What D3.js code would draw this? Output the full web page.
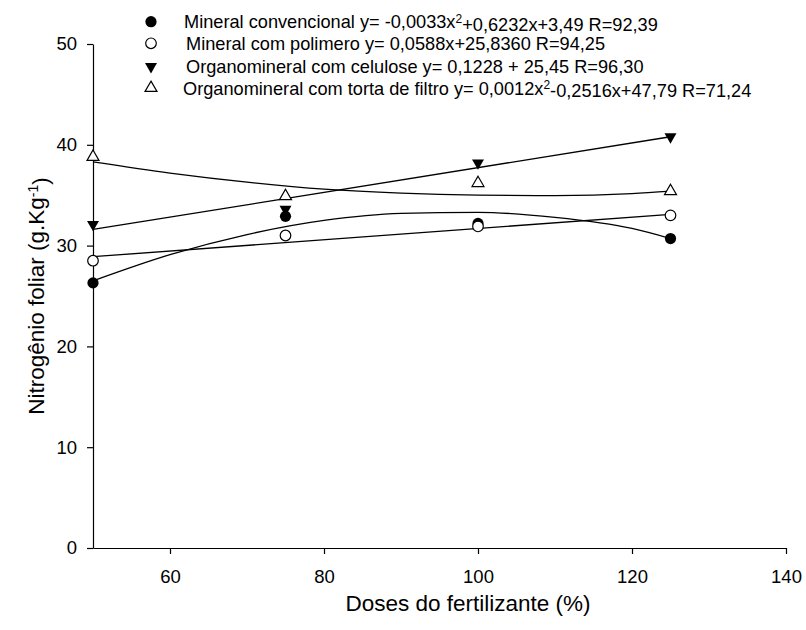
<!DOCTYPE html>
<html>
<head>
<meta charset="utf-8">
<script src="https://cdn.jsdelivr.net/npm/d3@7"></script>
<style>
  html, body { margin: 0; padding: 0; background: #fff; }
  svg { display: block; font-family: "Liberation Sans", Arial, sans-serif; }
</style>
</head>
<body>
<svg id="chart" width="806" height="630"></svg>
<script>
// ---- data ----
const doses = [50, 75, 100, 125];
const mineralConvencional = [26.3, 32.9, 32.2, 30.7];
const mineralPolimero = [28.5, 31.0, 31.9, 33.0];
const organoCelulose = [32.1, 33.6, 38.2, 40.8];
const organoTorta = [38.8, 34.9, 36.2, 35.4];

// fitted curves as drawn in the picture
const curveX = [50, 60, 70, 80, 90, 100, 110, 120, 125];
const fitConvencional = [26.5, 29.1, 31.1, 32.5, 33.2, 33.3, 32.8, 31.7, 30.7];
const fitTorta = [38.3, 37.2, 36.3, 35.6, 35.2, 35.0, 34.95, 35.15, 35.4];
const lineX = [50, 125];
const fitPolimero = [28.9, 33.1];
const fitCelulose = [31.6, 40.8];

const xTicks = [60, 80, 100, 120, 140];
const yTicks = [0, 10, 20, 30, 40, 50];

const legendItems = [
  {name: "Mineral convencional y= -0,0033x", sup: "2", rest: "+0,6232x+3,49 R=92,39", marker: "fcircle"},
  {name: "Mineral com polimero y= 0,0588x+25,8360 R=94,25", sup: null, rest: "", marker: "ocircle"},
  {name: "Organomineral com celulose y= 0,1228 + 25,45 R=96,30", sup: null, rest: "", marker: "dtri"},
  {name: "Organomineral com torta de filtro y= 0,0012x", sup: "2", rest: "-0,2516x+47,79 R=71,24", marker: "utri"}
];

// ---- drawing ----
const svg = d3.select("#chart");
const x = d3.scaleLinear().domain([50, 140]).range([93, 786]);
const y = d3.scaleLinear().domain([0, 50]).range([548, 44]);

const stroke = "#000";

// axes
const gx = svg.append("g").attr("transform", `translate(0,${y(0)})`)
  .call(d3.axisBottom(x).tickValues(xTicks).tickSize(6).tickSizeOuter(0).tickPadding(16));
const gy = svg.append("g").attr("transform", `translate(${x(50)},0)`)
  .call(d3.axisLeft(y).tickValues(yTicks).tickSize(6).tickSizeOuter(0).tickPadding(10));
[gx, gy].forEach(g => {
  g.selectAll("path, line").attr("stroke", stroke).attr("stroke-width", 1.2);
  g.selectAll("text").attr("fill", "#000").style("font-size", "18.5px")
    .style("font-family", '"Liberation Sans", Arial, sans-serif');
});

// axis titles
svg.append("text").attr("x", 468).attr("y", 611).attr("text-anchor", "middle")
  .style("font-size", "22.5px").text("Doses do fertilizante (%)");
const yt = svg.append("text").attr("transform", `translate(44,296) rotate(-90)`)
  .attr("text-anchor", "middle").style("font-size", "22.5px");
yt.append("tspan").text("Nitrogênio foliar (g.Kg");
yt.append("tspan").attr("dy", "-0.45em").style("font-size", "14px").text("-1");
yt.append("tspan").attr("dy", "0.45em").text(")");

// fitted lines
const lineGen = d3.line().x(d => x(d[0])).y(d => y(d[1])).curve(d3.curveMonotoneX);
const fits = [
  [curveX, fitConvencional],
  [lineX, fitPolimero],
  [lineX, fitCelulose],
  [curveX, fitTorta]
];
fits.forEach(([xs, ys]) => {
  svg.append("path").datum(xs.map((v, i) => [v, ys[i]]))
    .attr("d", lineGen).attr("fill", "none").attr("stroke", stroke).attr("stroke-width", 1.3);
});

// markers
const triSym = d3.symbol().type(d3.symbolTriangle).size(62);
function drawMarker(g, type, cx, cy) {
  if (type === "fcircle") {
    g.append("circle").attr("cx", cx).attr("cy", cy).attr("r", 5.6).attr("fill", "#000");
  } else if (type === "ocircle") {
    g.append("circle").attr("cx", cx).attr("cy", cy).attr("r", 5.3)
      .attr("fill", "#fff").attr("stroke", "#000").attr("stroke-width", 1.2);
  } else if (type === "dtri") {
    g.append("path").attr("d", triSym()).attr("transform", `translate(${cx},${cy}) rotate(180)`)
      .attr("fill", "#000");
  } else {
    g.append("path").attr("d", triSym()).attr("transform", `translate(${cx},${cy})`)
      .attr("fill", "#fff").attr("stroke", "#000").attr("stroke-width", 1.2);
  }
}
const series = [
  [mineralConvencional, "fcircle"],
  [mineralPolimero, "ocircle"],
  [organoCelulose, "dtri"],
  [organoTorta, "utri"]
];
const gm = svg.append("g");
series.forEach(([vals, type]) => {
  vals.forEach((v, i) => drawMarker(gm, type, x(doses[i]), y(v)));
});

// legend
const legY = [21.7, 43.3, 66.5, 88];
const legTextX = [184, 186, 186, 183];
const gl = svg.append("g");
legendItems.forEach((it, i) => {
  drawMarker(gl, it.marker, 151, legY[i]);
  const t = gl.append("text").attr("x", legTextX[i]).attr("y", legY[i] + 6.5)
    .style("font-size", "18.2px").attr("fill", "#000");
  t.append("tspan").text(it.name);
  if (it.sup) {
    t.append("tspan").attr("dy", "-0.45em").style("font-size", "12px").text(it.sup);
    t.append("tspan").attr("dy", "0.45em").text(it.rest);
  }
});
</script>
</body>
</html>
